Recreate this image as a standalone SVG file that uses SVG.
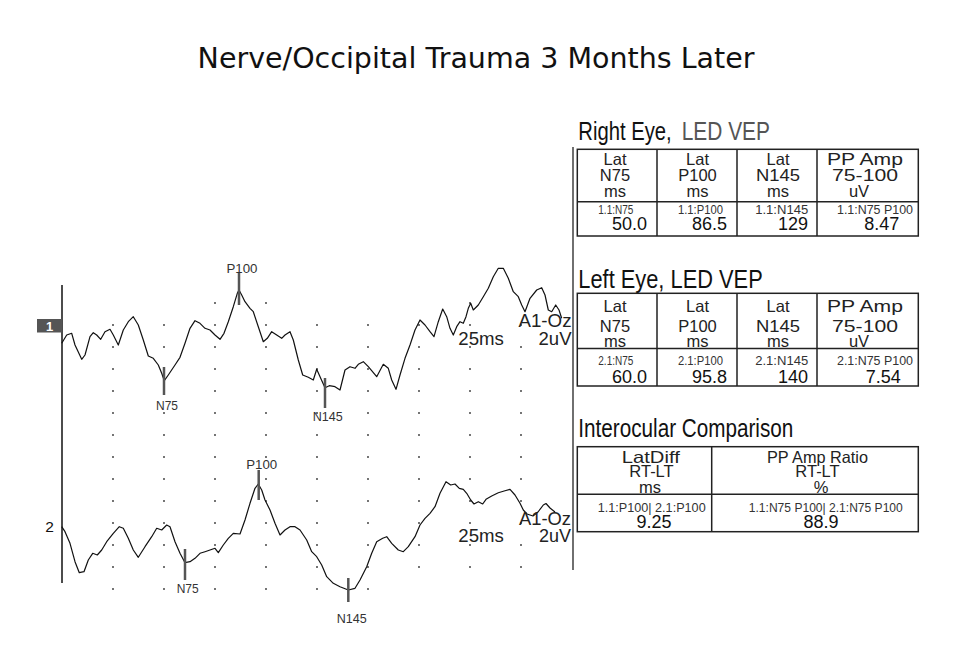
<svg xmlns="http://www.w3.org/2000/svg" xmlns:xlink="http://www.w3.org/1999/xlink" width="973" height="664" viewBox="0 0 973 664">
<style>
text{font-family:"Liberation Sans",Arial,sans-serif}
.title{font-family:"DejaVu Sans",Verdana,sans-serif;font-size:28.5px;fill:#111;text-anchor:middle}
.dot{fill:none;stroke:#333;stroke-width:1.8;stroke-linecap:round}
.trace{fill:none;stroke:#111;stroke-width:1.2;stroke-linejoin:round}
.mk{stroke:#555;stroke-width:2.5}
.pk{font-size:13.5px;fill:#333;text-anchor:middle}
.cal{font-size:18.5px;fill:#222}
.tt{font-size:25.6px;fill:#111}
.box{fill:none;stroke:#222;stroke-width:1.5}
.hd{font-size:16.5px;fill:#222;text-anchor:middle}
.sm{font-size:12.5px;fill:#333;text-anchor:middle}
.val{font-size:18px;fill:#111}
</style>
<defs>
<path id="colA" class="dot" d="M0 325h.01M0 347h.01M0 369h.01M0 391h.01M0 413h.01M0 435h.01M0 457h.01M0 479h.01M0 501h.01M0 523h.01M0 545h.01M0 567h.01M0 589h.01"/>
<path id="colB" class="dot" d="M0 325h.01M0 347h.01M0 369h.01M0 391h.01M0 413h.01M0 435h.01M0 457h.01M0 479h.01M0 501h.01M0 523h.01M0 545h.01M0 567h.01"/>
</defs>
<rect width="973" height="664" fill="#fff"/>
<text id="title" class="title" x="476" y="68">Nerve/Occipital Trauma 3 Months Later</text>

<g id="grid">
<use xlink:href="#colA" x="113"/>
<use xlink:href="#colA" x="164"/>
<use xlink:href="#colA" x="215"/>
<use xlink:href="#colA" x="266"/>
<use xlink:href="#colA" x="317"/>
<use xlink:href="#colA" x="368"/>
<use xlink:href="#colB" x="419"/>
<use xlink:href="#colB" x="470"/>
<use xlink:href="#colB" x="521"/>
<path class="dot" d="M215 303h.01M266 303h.01M470 303h.01"/>
<line x1="62" y1="285" x2="62" y2="583" stroke="#111" stroke-width="1.5"/>
</g>

<g id="channel1">
<rect x="37" y="319" width="25" height="13.5" fill="#555"/>
<text x="49.5" y="330.8" font-size="13" font-weight="bold" fill="#fff" text-anchor="middle">1</text>
<polyline class="trace" points="61.7,343.3 66.7,335 71.7,333.3 75,345 81.7,359.3 85,355 90,336.7 93.3,332.7 96.7,335 100.7,339.3 105,331.7 110,329.3 113.3,335 118.3,345 123.3,330 128.3,321.7 133.3,316.7 138.3,325 143.3,340 148.3,356 153.3,358.3 158.3,365 161.7,373.3 164.3,380.7 168.3,375 175,365 180,357.3 185,343.3 190,328.3 195,320.7 200,323.3 205,328.3 210,330 215,335 220,339.3 224,333.3 228.3,321.7 233.3,306.7 237.3,293.3 239,290 241.7,295 245,301.7 250,308.3 253.3,311.7 258.3,326.7 263.3,341.7 267.3,338.3 271.7,331.7 276.7,335 281.7,338.3 285,335 290,331.7 293.3,340 298.3,360 302.7,375 308.3,377.3 313.3,380 316.7,369.3 320.7,378.3 325,387.7 329.3,385.7 335,386.7 340,390 345,370 350,366.7 355,368.3 358.3,364.3 363.3,361.7 368.3,366.7 376.7,376.7 383.3,364.3 388.3,368.3 391.7,380 396,389.3 400,375 405,358.3 410,345 415,330 420,320 425,325 430,331.7 434,336.7 438.3,321.7 442.7,309 446.7,316.7 450,328.3 453.3,335 456.7,326.7 460,321.7 463.3,323.3 466,316.7 468.3,308.3 470.7,303.3 473.3,310 478.3,305 483.3,296.7 488.3,288.3 493.3,276.7 498.3,268.3 503.3,268.3 508.3,278.3 513.3,291.7 518.3,296.7 521.7,305 525,311.7 530,298.3 536.7,290 541.7,287.7 545,295 548.3,310 551.7,311.7 555.7,305 559,310 561.7,318.3"/>
<line class="mk" x1="239" y1="273" x2="239" y2="305"/>
<line class="mk" x1="164" y1="367" x2="164" y2="395"/>
<line class="mk" x1="325" y1="378" x2="325" y2="408"/>
<text class="pk" x="242" y="273" textLength="31" lengthAdjust="spacingAndGlyphs">P100</text>
<text class="pk" x="167" y="410" textLength="22" lengthAdjust="spacingAndGlyphs">N75</text>
<text class="pk" x="327.7" y="421" textLength="30" lengthAdjust="spacingAndGlyphs">N145</text>
<text class="cal" x="458.3" y="345" textLength="45.5" lengthAdjust="spacingAndGlyphs">25ms</text>
<text class="cal" x="518.5" y="327" textLength="53" lengthAdjust="spacingAndGlyphs">A1-Oz</text>
<text class="cal" x="538.5" y="345" textLength="33" lengthAdjust="spacingAndGlyphs">2uV</text>
</g>

<g id="channel2">
<text x="49.5" y="531.7" font-size="15.5" fill="#111" text-anchor="middle">2</text>
<polyline class="trace" points="61.7,526.7 65,531.7 70,543.3 75,561.7 79.3,572.7 84,571.7 88.3,560 92.7,553.3 97.3,555 101.7,550 106.7,541.7 113.3,533.3 119.3,526.7 123.3,528.3 128.3,538.3 133.3,550 138.3,557.3 145,546.7 151.7,536.7 156.7,528.3 161.7,530 166.7,525 170,526.7 175,541.7 180,553.3 185,562.7 190,561.7 195,558.3 200,553.3 205,551.7 210,550 215,548.3 218.3,552.7 223.3,545 228.3,538.3 233.3,533.3 240,534 245,520 250,503.3 255,488.3 258.3,484 261.7,490 265,500 270,510 275,523.3 280,535 285,530 290,526.7 295,526.7 300,530 306.7,540 311.7,551.7 316.7,556.7 321.7,565 326.7,576.7 333.3,583.3 340,586.7 348.3,590 355,588.3 360,580 366.7,566.7 371.7,553.3 376.7,541.7 382.7,538.3 386.7,536.7 391.7,543.3 398.3,550 403.3,551.7 408.3,546.7 415,536.7 420,525 425,518.3 430,513.3 435,506.7 440,493.3 446,481.7 450.7,485 455,484 459.3,488.3 463.3,489.3 466.7,493.3 470.7,500 474,504 478.3,501.7 482.7,504 486,499.3 491.7,496 498.3,492.7 505,490.7 510,489.3 515,495 520,503.3 523.3,510 527,514 533,516 538,512 543.3,505 546,503.5 550,508 555,512"/>
<line class="mk" x1="258.7" y1="470" x2="258.7" y2="500"/>
<line class="mk" x1="185" y1="549" x2="185" y2="580"/>
<line class="mk" x1="348.3" y1="578" x2="348.3" y2="602"/>
<text class="pk" x="261.7" y="469" textLength="31" lengthAdjust="spacingAndGlyphs">P100</text>
<text class="pk" x="187.7" y="592.5" textLength="22" lengthAdjust="spacingAndGlyphs">N75</text>
<text class="pk" x="351.7" y="622.5" textLength="30" lengthAdjust="spacingAndGlyphs">N145</text>
<text class="cal" x="458.3" y="542.3" textLength="45.5" lengthAdjust="spacingAndGlyphs">25ms</text>
<text class="cal" x="519" y="525" textLength="52" lengthAdjust="spacingAndGlyphs">A1-Oz</text>
<text class="cal" x="539" y="542.3" textLength="32" lengthAdjust="spacingAndGlyphs">2uV</text>
</g>

<line id="panel-edge" x1="573" y1="147" x2="573" y2="570" stroke="#222" stroke-width="1.3"/>

<g id="right-eye">
<text class="tt" x="578.3" y="140" textLength="93.4" lengthAdjust="spacingAndGlyphs">Right Eye,</text>
<text class="tt" x="681.7" y="140" textLength="88.3" lengthAdjust="spacingAndGlyphs" style="fill:#555">LED VEP</text>
<rect class="box" x="577.3" y="149.3" width="341" height="86.7"/>
<path class="box" d="M577.3 201.7H918.3M657 149.3V236M737 149.3V236M817 149.3V236"/>
<text class="hd" x="615" y="165">Lat</text>
<text class="hd" x="615" y="180.7">N75</text>
<text class="hd" x="615" y="197.3">ms</text>
<text class="hd" x="697.5" y="165">Lat</text>
<text class="hd" x="697.5" y="180.7">P100</text>
<text class="hd" x="697.5" y="197.3">ms</text>
<text class="hd" x="778" y="165">Lat</text>
<text class="hd" x="778" y="180.7" textLength="44" lengthAdjust="spacingAndGlyphs">N145</text>
<text class="hd" x="778" y="197.3">ms</text>
<text class="hd" x="865" y="165" textLength="76" lengthAdjust="spacingAndGlyphs">PP Amp</text>
<text class="hd" x="865" y="180.7" textLength="66" lengthAdjust="spacingAndGlyphs">75-100</text>
<text class="hd" x="859" y="197.3">uV</text>
<text class="sm" x="615.8" y="214" textLength="35" lengthAdjust="spacingAndGlyphs">1.1:N75</text>
<text class="sm" x="700.5" y="214" textLength="45" lengthAdjust="spacingAndGlyphs">1.1:P100</text>
<text class="sm" x="781.7" y="214" textLength="53" lengthAdjust="spacingAndGlyphs">1.1:N145</text>
<text class="sm" x="875" y="214" textLength="76" lengthAdjust="spacingAndGlyphs">1.1:N75 P100</text>
<text class="val" x="647" y="229.5" text-anchor="end">50.0</text>
<text class="val" x="727" y="229.5" text-anchor="end">86.5</text>
<text class="val" x="808" y="229.5" text-anchor="end">129</text>
<text class="val" x="881.7" y="229.5" text-anchor="middle">8.47</text>
</g>

<g id="left-eye">
<text class="tt" x="578.3" y="288.3" textLength="184.4" lengthAdjust="spacingAndGlyphs">Left Eye, LED VEP</text>
<rect class="box" x="577.3" y="293.3" width="341" height="92.7"/>
<path class="box" d="M577.3 348.5H918.3M657 293.3V386M737 293.3V386M817 293.3V386"/>
<text class="hd" x="615" y="312">Lat</text>
<text class="hd" x="615" y="331.5">N75</text>
<text class="hd" x="615" y="347">ms</text>
<text class="hd" x="697.5" y="312">Lat</text>
<text class="hd" x="697.5" y="331.5">P100</text>
<text class="hd" x="697.5" y="347">ms</text>
<text class="hd" x="778" y="312">Lat</text>
<text class="hd" x="778" y="331.5" textLength="44" lengthAdjust="spacingAndGlyphs">N145</text>
<text class="hd" x="778" y="347">ms</text>
<text class="hd" x="865" y="312" textLength="76" lengthAdjust="spacingAndGlyphs">PP Amp</text>
<text class="hd" x="865" y="331.5" textLength="66" lengthAdjust="spacingAndGlyphs">75-100</text>
<text class="hd" x="859" y="347">uV</text>
<text class="sm" x="615.8" y="365" textLength="35" lengthAdjust="spacingAndGlyphs">2.1:N75</text>
<text class="sm" x="700.5" y="365" textLength="45" lengthAdjust="spacingAndGlyphs">2.1:P100</text>
<text class="sm" x="781.7" y="365" textLength="53" lengthAdjust="spacingAndGlyphs">2.1:N145</text>
<text class="sm" x="875" y="365" textLength="76" lengthAdjust="spacingAndGlyphs">2.1:N75 P100</text>
<text class="val" x="647" y="382.5" text-anchor="end">60.0</text>
<text class="val" x="727" y="382.5" text-anchor="end">95.8</text>
<text class="val" x="808" y="382.5" text-anchor="end">140</text>
<text class="val" x="883.3" y="382.5" text-anchor="middle">7.54</text>
</g>

<g id="interocular">
<text class="tt" x="578.3" y="436.7" textLength="215" lengthAdjust="spacingAndGlyphs">Interocular Comparison</text>
<rect class="box" x="577.3" y="446.7" width="341" height="85"/>
<path class="box" d="M577.3 494.3H918.3M711.7 446.7V531.7"/>
<text class="hd" x="650.8" y="463.3" textLength="58" lengthAdjust="spacingAndGlyphs">LatDiff</text>
<text class="hd" x="651.5" y="476.7">RT-LT</text>
<text class="hd" x="650" y="493">ms</text>
<text class="hd" x="817.5" y="463.3" textLength="101" lengthAdjust="spacingAndGlyphs">PP Amp Ratio</text>
<text class="hd" x="817.5" y="476.7">RT-LT</text>
<text class="hd" x="821" y="493">%</text>
<text class="sm" x="651.7" y="511.7" textLength="108" lengthAdjust="spacingAndGlyphs">1.1:P100| 2.1:P100</text>
<text class="sm" x="825.8" y="511.7" textLength="154" lengthAdjust="spacingAndGlyphs">1.1:N75 P100| 2.1:N75 P100</text>
<text class="val" x="654" y="528.3" text-anchor="middle">9.25</text>
<text class="val" x="821" y="528.3" text-anchor="middle">88.9</text>
</g>
</svg>
